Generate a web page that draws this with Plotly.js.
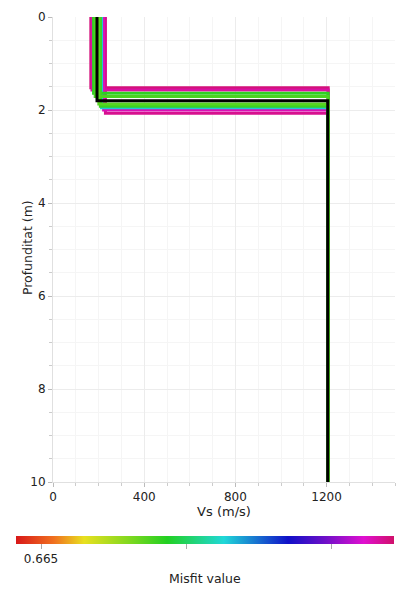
<!DOCTYPE html>
<html><head><meta charset="utf-8">
<script src="https://cdn.plot.ly/plotly-3.0.1.min.js"></script>
<style>html,body{margin:0;padding:0;background:#fff}#chart{width:410px;height:600px}</style>
</head><body><div id="chart"></div>
<script>
// Layer-over-halfspace models (ordered worst misfit first, best last)
const vsLayer   = [166, 230, 171, 222, 213, 178, 208, 185, 201, 193];
const depthBase = [1.52, 2.07, 1.57, 2.00, 1.95, 1.64, 1.92, 1.71, 1.87, 1.80];
const vsHalf    = [1207, 1207, 1207, 1207, 1207, 1207, 1207, 1207, 1207, 1205];
const misfit    = [0.6770, 0.6768, 0.6766, 0.6764, 0.6715, 0.6692, 0.6690, 0.6688, 0.6686, 0.665];
const maxDepth = 10;
const cmin = 0.66414, cmax = 0.67717;
const cbTickVals = [0.665, 0.670, 0.675];
const cbTickText = ['0.665', '', ''];

const colorscale = [
  [0, '#d81818'], [0.1, '#f07020'], [0.18, '#e8e020'], [0.3, '#80d820'],
  [0.4, '#22d022'], [0.55, '#20d8d8'], [0.72, '#1010c8'], [0.82, '#7010c8'],
  [0.92, '#e010d0'], [1, '#d0106a']
];
function hex2rgb(h){return [parseInt(h.substr(1,2),16),parseInt(h.substr(3,2),16),parseInt(h.substr(5,2),16)];}
function colorFor(v){
  let t = (v - cmin) / (cmax - cmin); t = Math.max(0, Math.min(1, t));
  for (let i = 1; i < colorscale.length; i++) {
    if (t <= colorscale[i][0]) {
      const a = colorscale[i-1], b = colorscale[i];
      const f = (t - a[0]) / (b[0] - a[0]);
      const ca = hex2rgb(a[1]), cb = hex2rgb(b[1]);
      return 'rgb(' + ca.map((c,k)=>Math.round(c + (cb[k]-c)*f)).join(',') + ')';
    }
  }
  return colorscale[colorscale.length-1][1];
}

const traces = [];
const bestIdx = misfit.indexOf(Math.min(...misfit));
for (let i = 0; i < vsLayer.length; i++) {
  traces.push({
    type: 'scatter', mode: 'lines',
    x: [vsLayer[i], vsLayer[i], vsHalf[i], vsHalf[i]],
    y: [0, depthBase[i], depthBase[i], maxDepth],
    line: {color: i === bestIdx ? '#000000' : colorFor(misfit[i]), width: 3},
    showlegend: false, hoverinfo: 'skip'
  });
}
// colour bar carrier
traces.push({
  type: 'scatter', mode: 'markers', x: [null], y: [null], showlegend: false,
  marker: {
    color: [cmin], cmin: cmin, cmax: cmax, colorscale: colorscale, showscale: true,
    colorbar: {
      orientation: 'h', lenmode: 'pixels', len: 378, thickness: 8,
      xanchor: 'left', x: -0.108, yanchor: 'top', y: -0.116,
      xpad: 0, ypad: 0,
      outlinewidth: 0, tickvals: cbTickVals, ticktext: cbTickText,
      ticks: 'outside', ticklen: 5, tickcolor: '#aaa',
      tickfont: {family: 'DejaVu Sans', size: 12, color: '#222'}
    }
  }
});

const layout = {
  width: 410, height: 600,
  margin: {l: 53, r: 15, t: 17, b: 118, autoexpand: false},
  paper_bgcolor: '#fff', plot_bgcolor: '#fff',
  font: {family: 'DejaVu Sans', size: 12, color: '#222'},
  xaxis: {
    range: [0, 1500], tickvals: [0, 400, 800, 1200], zeroline: false,
    showgrid: true, gridcolor: '#ececec', ticks: 'outside', ticklen: 4, tickcolor: '#bbb',
    minor: {dtick: 100, showgrid: true, gridcolor: '#f5f5f5', ticks: 'outside', ticklen: 3, tickcolor: '#ccc'},
    showline: true, linecolor: '#e0e0e0',
    title: {text: 'Vs (m/s)', standoff: 2, font: {family: 'DejaVu Sans', size: 13}}
  },
  yaxis: {
    range: [10, 0], dtick: 2, zeroline: false,
    showgrid: true, gridcolor: '#ececec', ticks: 'outside', ticklen: 4, tickcolor: '#bbb',
    minor: {dtick: 0.5, showgrid: true, gridcolor: '#f5f5f5', ticks: 'outside', ticklen: 3, tickcolor: '#ccc'},
    showline: true, linecolor: '#e0e0e0'
  },
  annotations: [
    {text: 'Profunditat (m)', xref: 'paper', yref: 'paper', x: -0.076, y: 0.503,
     xanchor: 'center', yanchor: 'middle', textangle: -90, showarrow: false,
     font: {family: 'DejaVu Sans', size: 12.5, color: '#222'}},
    {text: 'Misfit value', xref: 'paper', yref: 'paper', x: 0.443, y: -0.2065,
     xanchor: 'center', yanchor: 'middle', showarrow: false,
     font: {family: 'DejaVu Sans', size: 12.5, color: '#222'}}
  ]
};
Plotly.newPlot('chart', traces, layout, {staticPlot: true, displayModeBar: false});
</script></body></html>
